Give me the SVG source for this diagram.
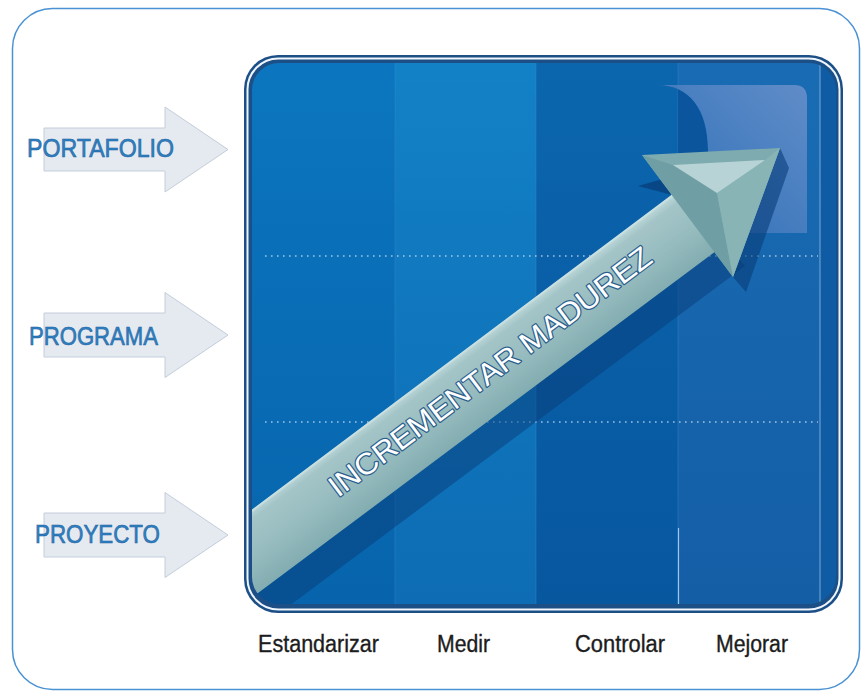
<svg xmlns="http://www.w3.org/2000/svg" width="863" height="692" viewBox="0 0 863 692">
  <style>
    .side-arrow { fill: #e5e9f0; stroke: #c3cedb; stroke-width: 1; }
    .side-label { font-family: "Liberation Sans", Arial, sans-serif; font-size: 25px; fill: #2f80c1; stroke: #1f66a3; stroke-width: 0.6; }
    .col-label { font-family: "Liberation Sans", Arial, sans-serif; font-size: 23px; fill: #1c1c1c; stroke: #1c1c1c; stroke-width: 0.35; }
    .dots { stroke: #cfe3f5; stroke-width: 1.6; stroke-dasharray: 1.6 4.4; opacity: 0.75; }
    .sep { stroke: #3d8ad0; stroke-width: 1; opacity: 0.4; }
    .big-label { font-family: "Liberation Sans", Arial, sans-serif; font-size: 30px; fill: #ffffff; stroke: #2b5e8c; stroke-width: 2.4; paint-order: stroke; stroke-linejoin: round; }
  </style>
  <defs>
    <linearGradient id="c1" x1="0" y1="0" x2="0" y2="1"><stop offset="0" stop-color="#0b76bf"/><stop offset="1" stop-color="#0764ac"/></linearGradient>
    <linearGradient id="c2" x1="0" y1="0" x2="0" y2="1"><stop offset="0" stop-color="#1381c6"/><stop offset="1" stop-color="#0d6cb4"/></linearGradient>
    <linearGradient id="c3" x1="0" y1="0" x2="0" y2="1"><stop offset="0" stop-color="#0b66ae"/><stop offset="1" stop-color="#07579f"/></linearGradient>
    <linearGradient id="c4" x1="0" y1="0" x2="0" y2="1"><stop offset="0" stop-color="#196cb3"/><stop offset="1" stop-color="#145ea6"/></linearGradient>
    <linearGradient id="overlay" x1="0" y1="1" x2="1" y2="0"><stop offset="0" stop-color="#2f70b8"/><stop offset="1" stop-color="#6d92cc"/></linearGradient>
    <linearGradient id="shaft" gradientUnits="userSpaceOnUse" x1="400" y1="398.5" x2="442" y2="455">
      <stop offset="0" stop-color="#bcd7d8"/>
      <stop offset="0.12" stop-color="#a4c5c8"/>
      <stop offset="0.55" stop-color="#97bcbf"/>
      <stop offset="1" stop-color="#83adb1"/>
    </linearGradient>
    <clipPath id="inner"><rect x="252" y="63" width="584" height="541" rx="27"/></clipPath>
  </defs>

  <!-- outer frame -->
  <rect id="frame" x="12.5" y="8.5" width="847" height="681" rx="40" fill="#ffffff" stroke="#4a92d4" stroke-width="1.5"/>

  <!-- panel -->
  <g id="panel">
    <rect x="244" y="55" width="599" height="558" rx="34" fill="#1d4f87"/>
    <rect x="247.5" y="58.5" width="592" height="551" rx="31" fill="none" stroke="#eef5fc" stroke-width="2"/>
    <g clip-path="url(#inner)">
      <rect x="252" y="63" width="143" height="541" fill="url(#c1)"/>
      <rect x="395" y="63" width="141" height="541" fill="url(#c2)"/>
      <rect x="536" y="63" width="142" height="541" fill="url(#c3)"/>
      <rect x="678" y="63" width="142" height="541" fill="url(#c4)"/>
      <rect x="820" y="63" width="16" height="541" fill="#0f5ca4"/>
      <line class="sep" x1="395" y1="63" x2="395" y2="604"/>
      <line class="sep" x1="536" y1="63" x2="536" y2="604"/>
      <line class="sep" x1="678" y1="63" x2="678" y2="604"/>
      <line x1="678.5" y1="528" x2="678.5" y2="604" stroke="#9cc6ea" stroke-width="1.2"/>
      <line x1="820" y1="63" x2="820" y2="604" stroke="#7eaedb" stroke-width="1.2" opacity="0.8"/>
      <!-- top-right overlay -->
      <path d="M657 85 C690 85 708 110 708 150 L708 240 L678 240 L678 85 Z" fill="#0a539b" opacity="0.9"/>
      <path d="M657 85 L794 85 Q807 85 807 98 L807 233 L708 233 L708 150 C708 110 690 85 657 85 Z" fill="url(#overlay)" opacity="0.85"/>
      <!-- dotted rows -->
      <line class="dots" x1="265" y1="256" x2="818" y2="256"/>
      <line class="dots" x1="265" y1="422" x2="818" y2="422"/>
      <!-- shadow under the shaft -->
      <polygon points="230,614 725,243 745,266 230,650" fill="#083c78" opacity="0.5"/>
      <polygon points="780,148 789,168 746,292 733,277" fill="#083c78" opacity="0.6"/>
      <polygon points="638,186 670,177 676,196" fill="#083c78" opacity="0.7"/>
    </g>
  </g>

  <!-- big arrow -->
  <g id="incrementar-madurez">
    <g clip-path="url(#inner)">
      <polygon points="230,526 700,173.5 720,248 230,614" fill="url(#shaft)"/>
      <line x1="230" y1="527.5" x2="690" y2="182.5" stroke="#cfe3e4" stroke-width="2" opacity="0.7"/>
    </g>
    <polygon points="642,155 780,148 733,277" fill="#7eabaf"/>
    <polygon points="642,155 673,165 717,193 733,277" fill="#6f9fa4"/>
    <polygon points="717,193 765,160 780,148 733,277" fill="#88b4b6"/>
    <polygon points="673,165 765,160 717,193" fill="#b7d3d5"/>
    <text class="big-label" transform="translate(338,498) rotate(-36.8)" x="0" y="0" textLength="395" lengthAdjust="spacingAndGlyphs">INCREMENTAR MADUREZ</text>
  </g>

  <!-- side arrows -->
  <g id="connectors">
    <g id="portafolio">
      <polygon class="side-arrow" points="44,128 165,128 165,107 228,149.5 165,192 165,171 44,171"/>
      <text class="side-label" x="27" y="157" textLength="147" lengthAdjust="spacingAndGlyphs">PORTAFOLIO</text>
    </g>
    <g id="programa">
      <polygon class="side-arrow" points="44,313 165,313 165,292.5 228,335 165,377.5 165,357 44,357"/>
      <text class="side-label" x="29" y="345" textLength="129" lengthAdjust="spacingAndGlyphs">PROGRAMA</text>
    </g>
    <g id="proyecto">
      <polygon class="side-arrow" points="44,513 165,513 165,492.5 228,535 165,577.5 165,557 44,557"/>
      <text class="side-label" x="35" y="543" textLength="125" lengthAdjust="spacingAndGlyphs">PROYECTO</text>
    </g>
  </g>

  <!-- column labels -->
  <g id="labels">
    <g id="estandarizar"><text class="col-label" x="258" y="652" textLength="121" lengthAdjust="spacingAndGlyphs">Estandarizar</text></g>
    <g id="medir"><text class="col-label" x="437" y="652" textLength="53" lengthAdjust="spacingAndGlyphs">Medir</text></g>
    <g id="controlar"><text class="col-label" x="575" y="652" textLength="90" lengthAdjust="spacingAndGlyphs">Controlar</text></g>
    <g id="mejorar"><text class="col-label" x="716" y="652" textLength="72" lengthAdjust="spacingAndGlyphs">Mejorar</text></g>
  </g>
</svg>
